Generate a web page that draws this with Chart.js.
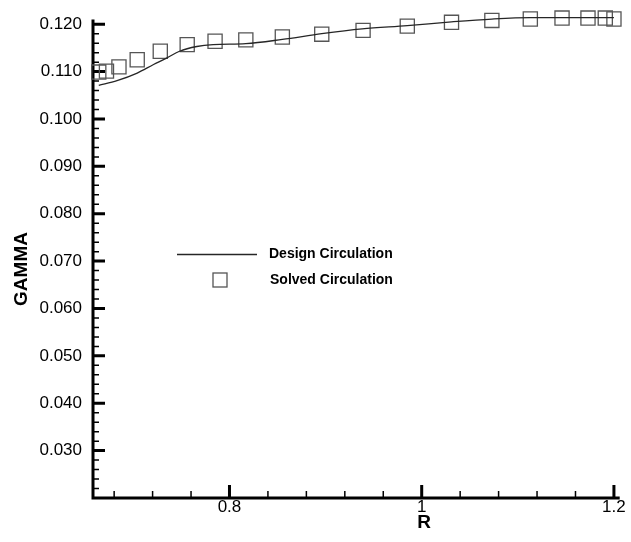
<!DOCTYPE html>
<html>
<head>
<meta charset="utf-8">
<script src="https://cdn.jsdelivr.net/npm/chart.js@4.4.1/dist/chart.umd.min.js"></script>
<style>
body { margin: 0; background: #fff; }
</style>
</head>
<body>
<canvas id="mycanvas" width="631" height="542"></canvas>
<script>
// design circulation (solid line)
var designR = [0.664, 0.683, 0.704, 0.721, 0.735, 0.748, 0.766, 0.783, 0.817, 0.855, 0.896, 0.938, 0.985, 1.031, 1.073, 1.113, 1.146, 1.173, 1.200];
var designGamma = [0.1071, 0.1081, 0.1097, 0.1115, 0.1129, 0.1143, 0.1153, 0.1157, 0.1159, 0.1168, 0.1180, 0.1190, 0.1197, 0.1205, 0.1211, 0.1214, 0.1214, 0.1214, 0.1214];

// solved circulation (squares)
var solvedR = [0.664, 0.672, 0.685, 0.704, 0.728, 0.756, 0.785, 0.817, 0.855, 0.896, 0.939, 0.985, 1.031, 1.073, 1.113, 1.146, 1.173, 1.191, 1.200];
var solvedGamma = [0.1099, 0.1101, 0.1110, 0.1125, 0.1143, 0.1157, 0.1164, 0.1167, 0.1173, 0.1179, 0.1187, 0.1196, 0.1204, 0.1208, 0.1211, 0.1213, 0.1213, 0.1213, 0.1211];

var xTicks = [0.8, 1.0, 1.2];
var xLabels = ["0.8", "1", "1.2"];
var xMinor = [0.68, 0.72, 0.76, 0.84, 0.88, 0.92, 0.96, 1.04, 1.08, 1.12, 1.16];
var yTicks = [0.030, 0.040, 0.050, 0.060, 0.070, 0.080, 0.090, 0.100, 0.110, 0.120];
var yMinor = [];
for (var k = 10; k <= 60; k++) { if (k % 5 != 0) yMinor.push(k * 0.002); }

var legendNames = ["Design Circulation", "Solved Circulation"];

function pts(xs, ys) {
	var out = [];
	for (var i in xs) out.push({x: xs[i], y: ys[i]});
	return out;
}

var axesPlugin = {
	id: 'axesPlugin',
	beforeDatasetsDraw: function(chart) {
		var ctx = chart.ctx, a = chart.chartArea;
		var xs = chart.scales.x, ys = chart.scales.y;
		ctx.save();
		ctx.strokeStyle = '#000';
		ctx.lineCap = 'butt';
		// minor ticks
		ctx.lineWidth = 1.5;
		ctx.beginPath();
		yMinor.forEach(function(v){
			var p = ys.getPixelForValue(v);
			ctx.moveTo(a.left, p); ctx.lineTo(a.left + 6, p);
		});
		xMinor.forEach(function(v){
			var p = xs.getPixelForValue(v);
			ctx.moveTo(p, a.bottom); ctx.lineTo(p, a.bottom - 7);
		});
		ctx.stroke();
		// major ticks
		ctx.lineWidth = 3;
		ctx.beginPath();
		yTicks.forEach(function(v){
			var p = ys.getPixelForValue(v);
			ctx.moveTo(a.left, p); ctx.lineTo(a.left + 12, p);
		});
		xTicks.forEach(function(v){
			var p = xs.getPixelForValue(v);
			ctx.moveTo(p, a.bottom); ctx.lineTo(p, a.bottom - 13);
		});
		ctx.stroke();
		// axis lines
		ctx.beginPath();
		ctx.moveTo(a.left, a.top);
		ctx.lineTo(a.left, a.bottom);
		ctx.lineTo(a.right, a.bottom);
		ctx.stroke();
		// axis titles
		ctx.fillStyle = '#000';
		ctx.font = 'bold 19px "Liberation Sans", Arial, sans-serif';
		ctx.textAlign = 'center';
		ctx.textBaseline = 'middle';
		ctx.fillText('R', 424, 523);
		ctx.translate(22, 269);
		ctx.rotate(-Math.PI / 2);
		ctx.fillText('GAMMA', 0, 0);
		ctx.restore();
	},
	afterDraw: function(chart) {
		var ctx = chart.ctx;
		var d0 = chart.data.datasets[0], d1 = chart.data.datasets[1];
		ctx.save();
		ctx.strokeStyle = d0.borderColor;
		ctx.lineWidth = d0.borderWidth;
		ctx.beginPath();
		ctx.moveTo(177, 254.5); ctx.lineTo(257, 254.5);
		ctx.stroke();
		ctx.strokeStyle = d1.borderColor;
		ctx.lineWidth = d1.borderWidth;
		ctx.strokeRect(213, 273, 14, 14);
		ctx.fillStyle = '#000';
		ctx.font = 'bold 14px "Liberation Sans", Arial, sans-serif';
		ctx.textAlign = 'left';
		ctx.textBaseline = 'middle';
		ctx.fillText(legendNames[0], 269, 254);
		ctx.fillText(legendNames[1], 270, 280);
		ctx.restore();
	}
};

var chartdata = {
	datasets: [
		{
			label: legendNames[0],
			data: pts(designR, designGamma),
			showLine: true,
			borderColor: "#262626",
			borderWidth: 1.3,
			pointRadius: 0,
			cubicInterpolationMode: 'monotone',
			fill: false,
			clip: false
		},
		{
			label: legendNames[1],
			data: pts(solvedR, solvedGamma),
			showLine: false,
			pointStyle: 'rect',
			pointRadius: 10,
			pointHoverRadius: 10,
			borderColor: "#555",
			backgroundColor: "rgba(0,0,0,0)",
			borderWidth: 1.3,
			clip: false
		}
	]
};

var tickFont = { family: '"Liberation Sans", Arial, sans-serif', size: 17, lineHeight: 1 };

var ctx = document.getElementById("mycanvas");

var LineGraph = new Chart(ctx, {
	type: 'scatter',
	data: chartdata,
	plugins: [axesPlugin],
	options: {
		responsive: false,
		animation: false,
		layout: { padding: { top: 18, right: 8, left: 0, bottom: 0 } },
		plugins: { legend: { display: false }, tooltip: { enabled: false } },
		scales: {
			x: {
				type: 'linear',
				min: 0.658,
				max: 1.206,
				grid: { display: false, drawTicks: false },
				border: { display: false },
				afterBuildTicks: function(scale) {
					scale.ticks = xTicks.map(function(v){ return {value: v}; });
				},
				afterFit: function(scale) { scale.height = 44; },
				ticks: {
					autoSkip: false,
					maxRotation: 0,
					padding: 1,
					color: '#000',
					font: tickFont,
					callback: function(v) { return xLabels[xTicks.indexOf(v)]; }
				}
			},
			y: {
				type: 'linear',
				min: 0.020,
				max: 0.121,
				grid: { display: false, drawTicks: false },
				border: { display: false },
				afterBuildTicks: function(scale) {
					scale.ticks = yTicks.map(function(v){ return {value: v}; });
				},
				afterFit: function(scale) { scale.width = 93; },
				ticks: {
					autoSkip: false,
					padding: 11,
					color: '#000',
					font: tickFont,
					callback: function(v) { return v.toFixed(3); }
				}
			}
		}
	}
});
</script>
</body>
</html>
